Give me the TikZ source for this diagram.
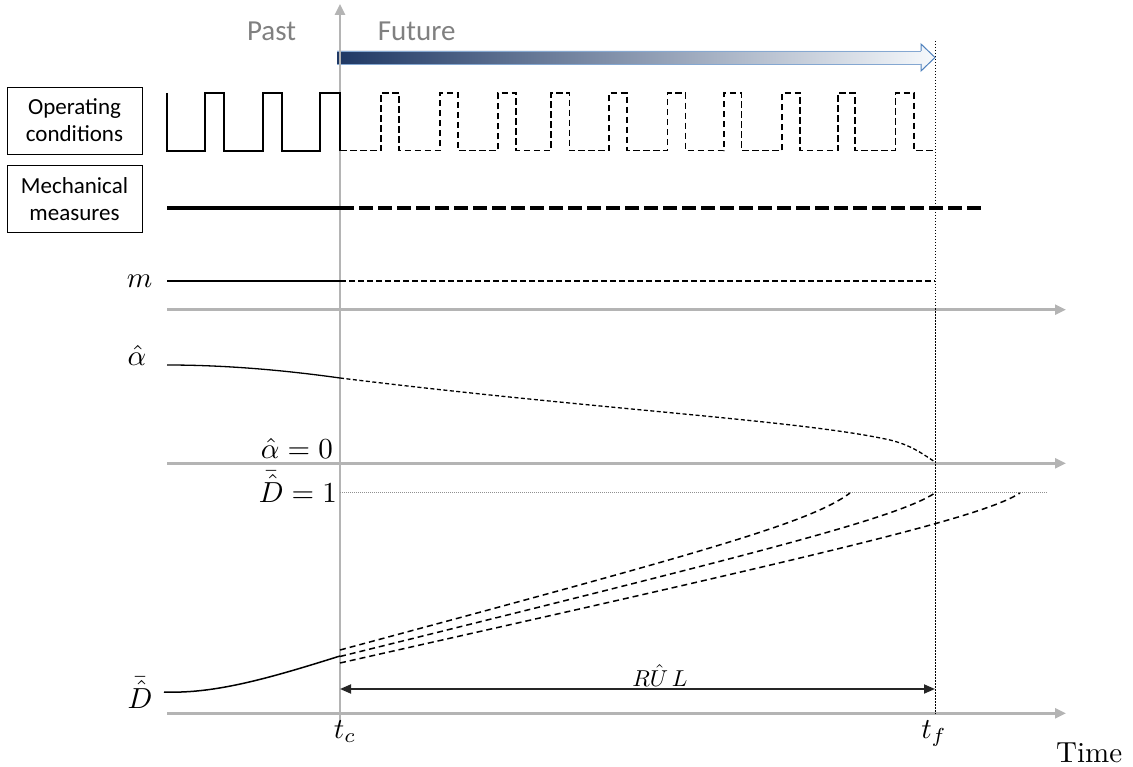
\documentclass[tikz,border=0pt]{standalone}
\usepackage{graphicx}
\usepackage{fontspec}
\newfontfamily\calfont{Carlito}
\usetikzlibrary{arrows.meta}
\newcommand{\lbig}[1]{\scalebox{2.9}{#1}}
\definecolor{axgray}{RGB}{180,180,180}
\definecolor{txtgray}{RGB}{128,128,128}
\definecolor{navy}{RGB}{31,56,100}
\definecolor{paleblue}{RGB}{246,249,252}
\definecolor{rimblue}{RGB}{79,129,189}
\tikzset{
  lbl/.style={inner sep=0pt},
  pf/.style={font=\calfont\fontsize{29}{34}\selectfont, text=txtgray, inner sep=0pt, anchor=base},
  box/.style={draw, line width=0.8pt, font=\calfont\fontsize{23}{27}\selectfont, align=center, minimum width=135pt, minimum height=67pt, inner sep=0pt},
  axis/.style={draw=axgray, line width=2.5pt, -{Triangle[length=11pt,width=10pt]}},
  wavesolid/.style={line width=1.8pt, line join=miter},
  wavedash/.style={line width=1.6pt, dash pattern=on 6.5pt off 3.5pt},
  mechsolid/.style={line width=4.5pt},
  mechdash/.style={line width=4.5pt, dash pattern=on 14pt off 5pt},
  msolid/.style={line width=2.4pt},
  mdash/.style={line width=2pt, dash pattern=on 6pt off 3pt},
  thinsolid/.style={line width=1.3pt},
  thindash/.style={line width=1.3pt, dash pattern=on 4pt off 2.5pt},
  ddash/.style={line width=1.5pt, dash pattern=on 6pt off 4pt},
  tfline/.style={line width=0.9pt, dash pattern=on 1.5pt off 1.5pt},
  onegray/.style={draw=axgray!80!black, line width=1pt, dash pattern=on 1pt off 1pt},
  rul/.style={line width=1.8pt, draw=black!85, {Triangle[length=11pt,width=9pt]}-{Triangle[length=11pt,width=9pt]}}
}
\begin{document}
\begin{tikzpicture}[x=1pt,y=-1pt]
\useasboundingbox (0,0) rectangle (1133,767);

% axes coordinates
\coordinate (vbot) at (340,720);
\coordinate (vtop) at (340,4);
\coordinate (a1l) at (167,309.7);
\coordinate (a1r) at (1066,309.7);
\coordinate (a2l) at (167,463.3);
\coordinate (a2r) at (1066,463.3);
\coordinate (a3l) at (167,713.3);
\coordinate (a3r) at (1066,713.3);
\coordinate (d1l) at (340,492.7);
\coordinate (d1r) at (1048,492.7);
\coordinate (tftop) at (935,41);
\coordinate (tfbot) at (935,713.3);

% gradient arrow
\shade[left color=navy, right color=paleblue]
  (337,51) -- (921,51) -- (921,44) -- (935,57.5) -- (921,71) -- (921,64) -- (337,64) -- cycle;
\draw[rimblue, line width=1pt]
  (921,51) -- (921,44) -- (935,57.5) -- (921,71) -- (921,64);
\draw[rimblue!70!white, line width=0.8pt] (337,51) -- (921,51) (337,64) -- (921,64);

% gray axes
\draw[axis] (vbot) -- (vtop);
\draw[axis] (a1l) -- (a1r);
\draw[axis] (a2l) -- (a2r);
\draw[axis] (a3l) -- (a3r);
\draw[onegray] (d1l) -- (d1r);

% tf dotted line
\draw[tfline] (tftop) -- (tfbot);

% Past / Future
\node[pf] (past) at (271.5,40.7) {Past};
\node[pf] (future) at (416.7,40.7) {Future};

% boxes
\node[box] (opc) at (74.5,120.5) {Operating\\conditions};
\node[box] (mech) at (74.5,198.8) {Mechanical\\measures};

% operating conditions wave
\draw[wavesolid] (167,93) -- (167,150.7) -- (205,150.7) -- (205,93) -- (224,93) -- (224,150.7)
  -- (263,150.7) -- (263,93) -- (282,93) -- (282,150.7) -- (320,150.7) -- (320,93)
  -- (340,93) -- (340,150.7);
\draw[wavedash] (340,150.7)
  -- (381,150.7) -- (381,93) -- (399,93) -- (399,150.7)
  -- (440,150.7) -- (440,93) -- (458,93) -- (458,150.7)
  -- (498,150.7) -- (498,93) -- (516,93) -- (516,150.7)
  -- (551,150.7) -- (551,93) -- (569.5,93) -- (569.5,150.7)
  -- (609,150.7) -- (609,93) -- (627,93) -- (627,150.7)
  -- (667.5,150.7) -- (667.5,93) -- (685.6,93) -- (685.6,150.7)
  -- (724,150.7) -- (724,93) -- (741.6,93) -- (741.6,150.7)
  -- (782,150.7) -- (782,93) -- (800,93) -- (800,150.7)
  -- (838,150.7) -- (838,93) -- (855,93) -- (855,150.7)
  -- (895.5,150.7) -- (895.5,93) -- (914,93) -- (914,150.7)
  -- (935,150.7);

% mechanical measures
\draw[mechsolid] (167,208) -- (340,208);
\draw[mechdash] (340,208) -- (984,208);

% m
\node[lbl, anchor=base] (mlab) at (139.5,288) {\lbig{$m$}};
\draw[msolid] (167,281) -- (340,281);
\draw[mdash] (340,281) -- (935,281);

% alpha hat
\node[lbl, anchor=base] (alab) at (137,366) {\lbig{$\hat{\alpha}$}};
\draw[thinsolid] (167,365) .. controls (230,365) and (290,371) .. (340,378);
\draw[thindash] (340,378) .. controls (600,410) and (800,420) .. (890,440)
  .. controls (910,445) and (920,452) .. (935,462);
\node[lbl, anchor=base east] (a0) at (333,458) {\lbig{$\hat{\alpha}=0$}};
\node[lbl, anchor=base east] (d1) at (337,502) {\lbig{$\bar{\hat{D}}=1$}};

% D curves
\node[lbl, anchor=base] (dlab) at (140,708) {\lbig{$\bar{\hat{D}}$}};
\draw[thinsolid, line width=1.5pt] (164,692) .. controls (215,694) and (270,678) .. (340,656);
\draw[ddash] (340,650) .. controls (700,553) and (810,523) .. (850,493);
\draw[ddash] (340,656.5) .. controls (750,555) and (895,519) .. (935,493);
\draw[ddash] (340,663) .. controls (800,559.5) and (980,519) .. (1020,493);

% RUL
\coordinate (rull) at (340,689);
\coordinate (rulr) at (935,689);
\draw[rul] (rull) -- (rulr);
\node[lbl, anchor=base] (rullab) at (660,686) {\scalebox{2.3}{$R\hat{U}\,L$}};

% time labels
\node[lbl, anchor=base] (tc) at (345,738) {\lbig{$t_c$}};
\node[lbl, anchor=base] (tf) at (934,738) {\lbig{$t_f$}};
\node[lbl, anchor=base west] (time) at (1056,762) {\lbig{Time}};
\end{tikzpicture}
\end{document}
